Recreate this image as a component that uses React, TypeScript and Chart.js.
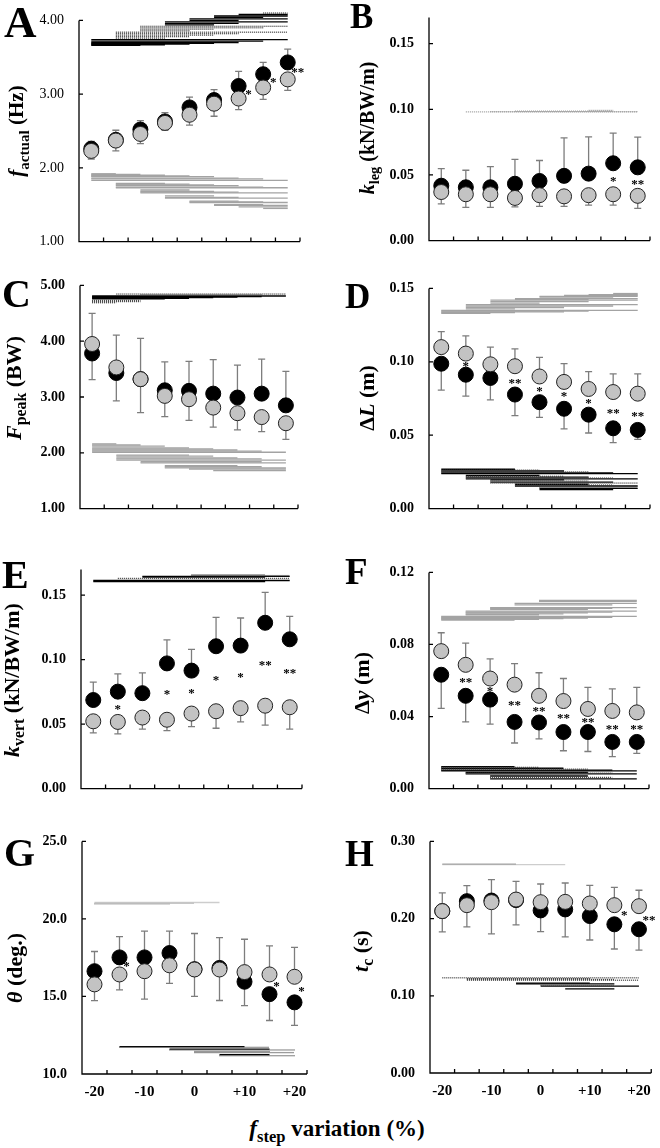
import { useEffect, useRef } from "react";
import Chart from "chart.js/auto";

const serif = "'Liberation Serif', 'Times New Roman', serif";

const steps = ["-20", "", "-10", "", "0", "", "+10", "", "+20"];

// A - f actual (Hz)
const aBlack = [2.26, 2.38, 2.52, 2.63, 2.82, 2.92, 3.11, 3.27, 3.43];
const aBlackSd = [0.1, 0.13, 0.12, 0.12, 0.14, 0.14, 0.2, 0.16, 0.18];
const aGrey = [2.23, 2.37, 2.46, 2.61, 2.72, 2.87, 2.94, 3.09, 3.2];
const aGreySd = [0.11, 0.14, 0.13, 0.1, 0.14, 0.17, 0.15, 0.16, 0.15];
const aStars = ["", "", "", "", "", "", "*", "*", "**"];
const aStarY = [0, 0, 0, 0, 0, 0, 3.04, 3.2, 3.33];
const aTopSolid = [[0, 2, 3.66], [0, 3, 3.67], [0, 4, 3.68], [0, 5, 3.69], [0, 6, 3.7], [0, 7, 3.72], [0, 8, 3.74], [3, 5, 3.94], [3, 6, 3.96], [3, 8, 3.98], [4, 6, 4.0], [4, 8, 4.02], [5, 7, 4.04], [5, 8, 4.06], [6, 8, 4.08]];
const aTopDot = [[1, 3, 3.76], [1, 4, 3.78], [1, 5, 3.8], [1, 6, 3.82], [1, 8, 3.84], [2, 4, 3.86], [2, 5, 3.88], [2, 7, 3.9], [2, 8, 3.92], [7, 8, 4.1]];
const aLow = [[0, 1, 1.92], [0, 2, 1.91], [0, 3, 1.9], [0, 4, 1.89], [0, 5, 1.88], [0, 6, 1.86], [0, 7, 1.85], [0, 8, 1.83], [1, 3, 1.79], [1, 4, 1.78], [1, 5, 1.77], [1, 6, 1.76], [1, 7, 1.74], [1, 8, 1.73], [2, 4, 1.7], [2, 5, 1.68], [2, 6, 1.67], [2, 8, 1.66], [3, 5, 1.62], [3, 6, 1.6], [3, 8, 1.59], [4, 6, 1.55], [4, 7, 1.54], [4, 8, 1.53], [5, 7, 1.5], [5, 8, 1.49], [6, 8, 1.47], [7, 8, 1.45]];

// B - k leg
const bBlack = [0.0418, 0.0406, 0.0406, 0.0433, 0.0454, 0.0493, 0.051, 0.0589, 0.0558];
const bBlackSd = [0.013, 0.013, 0.0157, 0.0185, 0.0156, 0.029, 0.028, 0.023, 0.023];
const bGrey = [0.037, 0.0353, 0.0353, 0.0325, 0.0346, 0.0337, 0.0346, 0.0353, 0.0341];
const bGreySd = [0.009, 0.01, 0.01, 0.0068, 0.0086, 0.0077, 0.0076, 0.0083, 0.0096];
const bStars = ["", "", "", "", "", "", "", "*", "**"];
const bStarY = [0, 0, 0, 0, 0, 0, 0, 0.047, 0.045];
const bTopDot = [[1, 8, 0.098], [2, 8, 0.0983], [3, 7, 0.0986], [6, 7, 0.0991]];

// C - F peak (BW)
const cBlack = [3.78, 3.43, 3.32, 3.12, 3.11, 3.06, 2.99, 3.06, 2.85];
const cBlackSd = [0.47, 0.5, 0.73, 0.51, 0.53, 0.61, 0.58, 0.62, 0.61];
const cGrey = [3.95, 3.53, 3.32, 3.02, 2.96, 2.81, 2.71, 2.64, 2.53];
const cGreySd = [0.55, 0.58, 0.6, 0.37, 0.38, 0.35, 0.3, 0.26, 0.29];
const cTopSolid = [[0, 3, 4.76], [0, 4, 4.77], [0, 5, 4.78], [0, 6, 4.79], [0, 7, 4.8], [0, 8, 4.81]];
const cTopDot = [[0, 1, 4.69], [0, 2, 4.71], [0, 2, 4.73], [2, 7, 4.83], [1, 8, 4.845]];
const cLow = [[0, 1, 2.16], [0, 2, 2.14], [0, 3, 2.12], [0, 4, 2.09], [0, 5, 2.07], [0, 6, 2.05], [0, 7, 2.03], [0, 8, 2.01], [1, 4, 1.96], [1, 5, 1.94], [1, 6, 1.91], [1, 7, 1.89], [1, 8, 1.87], [2, 7, 1.84], [2, 8, 1.82], [3, 6, 1.77], [3, 7, 1.75], [3, 8, 1.73], [4, 8, 1.71], [5, 8, 1.68]];

// D - delta L (m)
const dBlack = [0.0987, 0.0912, 0.089, 0.0777, 0.0725, 0.068, 0.064, 0.0547, 0.0536];
const dBlackSd = [0.018, 0.0146, 0.015, 0.0144, 0.0103, 0.0137, 0.0125, 0.0097, 0.0064];
const dGrey = [0.11, 0.1056, 0.0983, 0.097, 0.09, 0.0863, 0.0815, 0.0794, 0.0783];
const dGreySd = [0.0106, 0.012, 0.0117, 0.0118, 0.013, 0.0124, 0.0118, 0.0124, 0.0135];
const dStars = ["", "*", "", "**", "*", "*", "*", "**", "**"];
const dStarY = [0, 0.0987, 0, 0.087, 0.0815, 0.078, 0.0734, 0.067, 0.0644];
const dTop = [[0, 2, 0.133], [0, 3, 0.1335], [0, 5, 0.134], [0, 6, 0.1345], [0, 8, 0.135], [1, 3, 0.136], [1, 5, 0.137], [1, 7, 0.138], [1, 8, 0.139], [2, 4, 0.14], [2, 6, 0.141], [2, 8, 0.142], [3, 6, 0.1425], [3, 8, 0.143], [4, 7, 0.144], [4, 8, 0.1445], [5, 8, 0.1452], [6, 8, 0.1458], [7, 8, 0.1465]];
const dLowSolid = [[0, 3, 0.0268], [0, 5, 0.0256], [0, 7, 0.0244], [0, 8, 0.0238], [1, 4, 0.0226], [1, 6, 0.0214], [1, 8, 0.0202], [2, 5, 0.0195], [2, 7, 0.0181], [3, 6, 0.0166], [3, 8, 0.0154], [4, 8, 0.0138], [4, 7, 0.013]];
const dLowDot = [[0, 4, 0.0262], [0, 6, 0.025], [1, 5, 0.022], [1, 7, 0.0208], [2, 6, 0.0188], [2, 8, 0.0174], [3, 7, 0.016], [4, 8, 0.0146]];

// E - k vert
const eBlack = [0.0687, 0.0752, 0.074, 0.0971, 0.0915, 0.1104, 0.1109, 0.1286, 0.1158];
const eBlackSd = [0.0138, 0.0138, 0.0158, 0.0182, 0.0165, 0.0224, 0.0214, 0.0236, 0.0177];
const eGrey = [0.0522, 0.0517, 0.0551, 0.0534, 0.0582, 0.06, 0.0624, 0.0643, 0.0631];
const eGreySd = [0.009, 0.0092, 0.009, 0.0085, 0.0102, 0.0132, 0.0107, 0.015, 0.017];
const eStars = ["", "*", "", "*", "*", "*", "*", "**", "**"];
const eStarY = [0, 0.0636, 0, 0.0752, 0.0757, 0.0862, 0.0886, 0.0976, 0.0915];
const eTopSolid = [[0, 7, 0.1606], [0, 8, 0.1614], [2, 7, 0.164], [2, 8, 0.1646]];
const eTopDot = [[1, 8, 0.163], [4, 8, 0.1652], [4, 7, 0.1658]];

// F - delta y (m)
const fBlack = [0.0632, 0.0515, 0.0494, 0.037, 0.0367, 0.0314, 0.0314, 0.0259, 0.0259];
const fBlackSd = [0.0187, 0.0145, 0.0136, 0.0117, 0.0091, 0.0104, 0.0108, 0.0081, 0.0063];
const fGrey = [0.0763, 0.0687, 0.0611, 0.0577, 0.0515, 0.0486, 0.0442, 0.0431, 0.0423];
const fGreySd = [0.0102, 0.012, 0.0109, 0.0117, 0.0128, 0.0125, 0.012, 0.0123, 0.0139];
const fStars = ["", "**", "*", "**", "**", "**", "**", "**", "**"];
const fStarY = [0, 0.0603, 0.0556, 0.0477, 0.0445, 0.0405, 0.0384, 0.0346, 0.0346];
const fTop = [[0, 3, 0.0935], [0, 4, 0.0939], [0, 5, 0.0943], [0, 6, 0.0947], [0, 7, 0.0951], [0, 8, 0.0956], [1, 4, 0.0965], [1, 5, 0.097], [1, 6, 0.0975], [1, 7, 0.098], [1, 8, 0.0985], [2, 6, 0.0995], [2, 7, 0.1], [2, 8, 0.1005], [3, 7, 0.102], [3, 8, 0.1028], [4, 8, 0.104], [4, 8, 0.1045]];
const fLowSolid = [[0, 3, 0.0122], [0, 5, 0.0113], [0, 7, 0.0103], [0, 8, 0.0098], [1, 6, 0.009], [1, 8, 0.0082], [2, 6, 0.007], [2, 8, 0.0054]];
const fLowDot = [[0, 4, 0.0118], [0, 6, 0.0108], [1, 7, 0.0086], [2, 7, 0.0062]];

// G - theta (deg.)
const gBlack = [16.63, 17.52, 17.52, 17.8, 16.76, 16.84, 15.95, 15.15, 14.62];
const gBlackSd = [1.27, 1.34, 1.7, 1.42, 2.3, 1.96, 1.54, 1.7, 1.48];
const gGrey = [15.78, 16.42, 16.63, 17.01, 16.74, 16.74, 16.57, 16.42, 16.27];
const gGreySd = [1.05, 1.0, 1.8, 1.16, 1.74, 2.0, 2.12, 1.84, 1.89];
const gStars = ["", "*", "", "", "", "", "", "*", "*"];
const gStarY = [0, 17.1, 0, 0, 0, 0, 0, 15.83, 15.5];
const gTopLight = [[0, 5, 21.06]];
const gTopDot = [[0, 3, 20.95], [0, 4, 21.0]];
const gLowSolid = [[1, 6, 11.76], [3, 7, 11.6], [5, 7, 11.25]];
const gLowDot = [[1, 7, 11.72], [3, 8, 11.55], [4, 7, 11.45], [4, 8, 11.38], [5, 8, 11.18]];

// H - t c (s)
const hBlack = [0.2097, 0.2226, 0.2234, 0.224, 0.2106, 0.2119, 0.2033, 0.1926, 0.1862];
const hBlackSd = [0.0236, 0.02, 0.027, 0.032, 0.0274, 0.0356, 0.031, 0.032, 0.027];
const hGrey = [0.2097, 0.2174, 0.2213, 0.2247, 0.2213, 0.2217, 0.2196, 0.2174, 0.2161];
const hGreySd = [0.027, 0.028, 0.041, 0.0235, 0.0235, 0.0244, 0.0235, 0.023, 0.0206];
const hStars = ["", "", "", "", "", "", "", "*", "**"];
const hStarY = [0, 0, 0, 0, 0, 0, 0, 0.2076, 0.2012];
const hTopGrey = [[0, 3, 0.2705]];
const hTopLight = [[0, 5, 0.27]];
const hLowSolid = [[3, 6, 0.1165], [3, 7, 0.1155], [4, 8, 0.1125], [5, 7, 0.109]];
const hLowDot = [[0, 8, 0.1233], [1, 6, 0.1222], [1, 7, 0.1212], [1, 8, 0.1202], [4, 7, 0.1135]];

const lineStyles: Record<string, { color: string; dash: number[] }> = {
  black: { color: "#000", dash: [] },
  dot: { color: "#3a3a3a", dash: [1, 1] },
  grey: { color: "#a3a3a3", dash: [] },
  light: { color: "#cdcdcd", dash: [] },
  greydot: { color: "#9a9a9a", dash: [1, 1] },
};

const panels = [
  {
    letter: "A", letterPos: [4, 0, 45], box: [79, 19, 300, 253], min: 1, max: 4, step: 1, dec: 2, boldTicks: false,
    black: aBlack, blackSd: aBlackSd, grey: aGrey, greySd: aGreySd, stars: aStars, starY: aStarY, starDx: 10,
    groups: [[aTopSolid, "black"], [aTopDot, "dot"], [aLow, "grey"]],
    title: <><i>f</i><sub style={{ fontSize: "0.72em" }}>actual</sub> (Hz)</>, titlePos: [19, 131, 21],
  },
  {
    letter: "B", letterPos: [350, -1, 35], box: [429, 16, 650, 252], min: 0, max: 0.17, step: 0.05, dec: 2, boldTicks: true,
    black: bBlack, blackSd: bBlackSd, grey: bGrey, greySd: bGreySd, stars: bStars, starY: bStarY, starDx: 0,
    groups: [[bTopDot, "greydot"]],
    title: <><i>k</i><sub style={{ fontSize: "0.72em" }}>leg</sub> (kN/BW/m)</>, titlePos: [369, 128, 20],
  },
  {
    letter: "C", letterPos: [2, 274, 40], box: [80, 284, 298, 520], min: 1, max: 5, step: 1, dec: 2, boldTicks: true,
    black: cBlack, blackSd: cBlackSd, grey: cGrey, greySd: cGreySd, stars: [], starY: [], starDx: 0,
    groups: [[cTopSolid, "black"], [cTopDot, "dot"], [cLow, "grey"]],
    title: <><i>F</i><sub style={{ fontSize: "0.72em" }}>peak</sub> (BW)</>, titlePos: [16, 388, 22],
  },
  {
    letter: "D", letterPos: [345, 279, 35], box: [429, 287, 650, 520], min: 0, max: 0.15, step: 0.05, dec: 2, boldTicks: true,
    black: dBlack, blackSd: dBlackSd, grey: dGrey, greySd: dGreySd, stars: dStars, starY: dStarY, starDx: 0,
    groups: [[dTop, "grey"], [dLowSolid, "black"], [dLowDot, "dot"]],
    title: <>Δ<i>L</i> (m)</>, titlePos: [367, 398, 22],
  },
  {
    letter: "E", letterPos: [2, 555, 40], box: [81, 568, 302, 800], min: 0, max: 0.17, step: 0.05, dec: 2, boldTicks: true,
    black: eBlack, blackSd: eBlackSd, grey: eGrey, greySd: eGreySd, stars: eStars, starY: eStarY, starDx: 0,
    groups: [[eTopSolid, "black"], [eTopDot, "dot"]],
    title: <><i>k</i><sub style={{ fontSize: "0.72em" }}>vert</sub> (kN/BW/m)</>, titlePos: [14, 680, 22],
  },
  {
    letter: "F", letterPos: [345, 553, 37], box: [429, 571, 649, 800], min: 0, max: 0.12, step: 0.04, dec: 2, boldTicks: true,
    black: fBlack, blackSd: fBlackSd, grey: fGrey, greySd: fGreySd, stars: fStars, starY: fStarY, starDx: 0,
    groups: [[fTop, "grey"], [fLowSolid, "black"], [fLowDot, "dot"]],
    title: <>Δ<i>y</i> (m)</>, titlePos: [362, 683, 22],
  },
  {
    letter: "G", letterPos: [4, 833, 40], box: [82, 840, 307, 1074], min: 10, max: 25, step: 5, dec: 1, boldTicks: true,
    black: gBlack, blackSd: gBlackSd, grey: gGrey, greySd: gGreySd, stars: gStars, starY: gStarY, starDx: 7,
    groups: [[gTopLight, "light"], [gTopDot, "greydot"], [gLowSolid, "black"], [gLowDot, "dot"]],
    title: <><i>θ</i> (deg.)</>, titlePos: [15, 968, 22],
  },
  {
    letter: "H", letterPos: [345, 835, 37], box: [430, 840, 655, 1073], min: 0, max: 0.3, step: 0.1, dec: 2, boldTicks: true,
    black: hBlack, blackSd: hBlackSd, grey: hGrey, greySd: hGreySd, stars: hStars, starY: hStarY, starDx: 10,
    groups: [[hTopLight, "light"], [hTopGrey, "grey"], [hLowSolid, "black"], [hLowDot, "dot"]],
    title: <><i>t</i><sub style={{ fontSize: "0.72em" }}>c</sub> (s)</>, titlePos: [363, 951, 22],
  },
];

type PanelDef = (typeof panels)[number];

const Panel = ({ p, index }: { p: PanelDef; index: number }) => {
  const ref = useRef<HTMLCanvasElement | null>(null);
  const [left, top, right, bottom] = p.box;
  const cl = index % 2 === 0 ? 0 : 330;
  const cw = 330;
  const ct = top - 22;
  const showX = index >= 6;
  const ch = bottom - ct + (showX ? 40 : 12);

  useEffect(() => {
    if (!ref.current) return;
    const ctx = ref.current.getContext("2d");
    if (!ctx) return;

    const extras = {
      id: "extras",
      beforeDatasetsDraw(chart: any) {
        const { ctx: c, scales } = chart;
        const xs = scales.x;
        const ys = scales.y;
        c.save();
        c.strokeStyle = "#7d7d7d";
        c.lineWidth = 1.3;
        const bar = (i: number, v: number, sd: number, dir: number) => {
          const px = xs.getPixelForValue(i);
          const y0 = ys.getPixelForValue(v);
          const y1 = ys.getPixelForValue(v + dir * sd);
          c.beginPath();
          c.moveTo(px, y0);
          c.lineTo(px, y1);
          c.moveTo(px - 3.5, y1);
          c.lineTo(px + 3.5, y1);
          c.stroke();
        };
        p.black.forEach((v, i) => {
          const up = v >= p.grey[i];
          bar(i, v, p.blackSd[i], up ? 1 : -1);
          bar(i, p.grey[i], p.greySd[i], up ? -1 : 1);
        });
        c.restore();
      },
      afterDatasetsDraw(chart: any) {
        const { ctx: c, scales, chartArea } = chart;
        const xs = scales.x;
        const ys = scales.y;
        c.save();
        // comparison lines
        p.groups.forEach(([segs, style]: any) => {
          const st = lineStyles[style];
          c.strokeStyle = st.color;
          c.setLineDash(st.dash);
          c.lineWidth = 1.3;
          segs.forEach(([a, b, v]: number[]) => {
            const py = ys.getPixelForValue(v);
            c.beginPath();
            c.moveTo(xs.getPixelForValue(a), py);
            c.lineTo(xs.getPixelForValue(b), py);
            c.stroke();
          });
        });
        c.setLineDash([]);
        // asterisks
        c.fillStyle = "#000";
        c.font = `bold 13px ${serif}`;
        c.textAlign = "center";
        c.textBaseline = "middle";
        p.stars.forEach((s, i) => {
          if (!s) return;
          c.fillText(s, xs.getPixelForValue(i) + p.starDx, ys.getPixelForValue(p.starY[i]) + 3);
        });
        // axes with inward ticks
        c.strokeStyle = "#000";
        c.lineWidth = 1.3;
        c.beginPath();
        c.moveTo(chartArea.left, chartArea.top);
        c.lineTo(chartArea.left, chartArea.bottom);
        c.lineTo(chartArea.right, chartArea.bottom);
        ys.ticks.forEach((t: any) => {
          const py = ys.getPixelForValue(t.value);
          c.moveTo(chartArea.left, py);
          c.lineTo(chartArea.left + 4, py);
        });
        for (let k = 0; k <= steps.length; k++) {
          const px = xs.getPixelForValue(k - 0.5);
          c.moveTo(px, chartArea.bottom);
          c.lineTo(px, chartArea.bottom - 4);
        }
        c.stroke();
        c.restore();
      },
    };

    const chart = new Chart(ctx, {
      type: "line",
      data: {
        labels: steps,
        datasets: [
          {
            data: p.grey,
            showLine: false,
            pointRadius: 7.5,
            pointBackgroundColor: "#c3c3c3",
            pointBorderColor: "#222",
            pointBorderWidth: 1,
            order: 1,
          },
          {
            data: p.black,
            showLine: false,
            pointRadius: 7.5,
            pointBackgroundColor: "#000",
            pointBorderColor: "#000",
            pointBorderWidth: 1,
            order: 2,
          },
        ],
      },
      options: {
        animation: false,
        responsive: false,
        events: [],
        layout: {
          autoPadding: false,
          padding: { left: 0, top: top - ct, right: cl + cw - right, bottom: 0 },
        },
        plugins: { legend: { display: false }, tooltip: { enabled: false } },
        scales: {
          x: {
            type: "category",
            offset: true,
            grid: { display: false, drawTicks: false },
            border: { display: false },
            ticks: {
              display: showX,
              autoSkip: false,
              maxRotation: 0,
              color: "#000",
              padding: 9,
              font: { family: serif, size: 15, weight: "bold" },
            },
            afterFit: (s: any) => {
              s.height = ct + ch - bottom;
            },
          },
          y: {
            min: p.min,
            max: p.max,
            grid: { display: false, drawTicks: false },
            border: { display: false },
            ticks: {
              stepSize: p.step,
              includeBounds: false,
              color: "#000",
              padding: 15,
              font: { family: serif, size: 14, weight: p.boldTicks ? "bold" : "normal" },
              callback: (v: any) => Number(v).toFixed(p.dec),
            },
            afterFit: (s: any) => {
              s.width = left - cl;
            },
          },
        },
      },
      plugins: [extras],
    });

    return () => {
      chart.destroy();
    };
  }, []);

  return (
    <>
      <canvas
        ref={ref}
        width={cw}
        height={ch}
        style={{ position: "absolute", left: cl, top: ct, width: cw, height: ch }}
      />
      <div
        style={{
          position: "absolute",
          left: p.letterPos[0],
          top: p.letterPos[1],
          fontSize: p.letterPos[2],
          lineHeight: 1,
          fontFamily: serif,
          fontWeight: "bold",
        }}
      >
        {p.letter}
      </div>
      <div
        style={{
          position: "absolute",
          left: p.titlePos[0],
          top: p.titlePos[1],
          fontSize: p.titlePos[2],
          lineHeight: 1,
          fontFamily: serif,
          fontWeight: "bold",
          whiteSpace: "nowrap",
          transform: "translate(-50%, -50%) rotate(-90deg)",
        }}
      >
        {p.title}
      </div>
    </>
  );
};

const App = () => {
  return (
    <div style={{ position: "absolute", left: 0, top: 0, width: 660, height: 1148, background: "#fff" }}>
      {panels.map((p, i) => (
        <Panel key={p.letter} p={p} index={i} />
      ))}
      <div
        style={{
          position: "absolute",
          left: 337,
          top: 1131,
          transform: "translate(-50%, -50%)",
          fontSize: 23,
          lineHeight: 1,
          fontFamily: serif,
          fontWeight: "bold",
          whiteSpace: "nowrap",
        }}
      >
        <i>f</i>
        <sub style={{ fontSize: "0.72em" }}>step</sub> variation (%)
      </div>
    </div>
  );
};

export default App;
